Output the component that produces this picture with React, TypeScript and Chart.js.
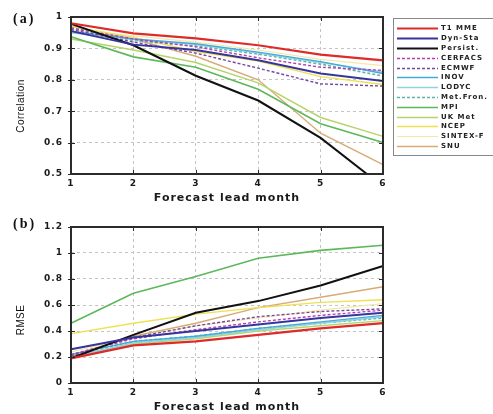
import { useEffect, useRef } from "react";
import { Chart, registerables } from "chart.js";

Chart.register(...registerables);

// ---------- data ----------
const leadMonths = ["1", "2", "3", "4", "5", "6"];

const seriesNames = [
  "T1 MME", "Dyn-Sta", "Persist.", "CERFACS", "ECMWF", "INOV", "LODYC",
  "Met.Fron.", "MPI", "UK Met", "NCEP", "SINTEX-F", "SNU",
];
const seriesColors = [
  "#de2a2a", "#35359c", "#111111", "#b63cb8", "#7446a6", "#46a9dc", "#8fd3e2",
  "#5bb5a6", "#5cb85a", "#b6d46a", "#eee050", "#f1e9a8", "#d8aa76",
];
const seriesWidths = [2.2, 2, 2, 1.4, 1.4, 1.4, 1.4, 1.6, 1.6, 1.4, 1.4, 1.2, 1.4];
const seriesDashed = [false, false, false, true, true, false, false, true, false, false, false, false, false];

// Correlation (panel a)
const corrT1MME = [0.98, 0.948, 0.932, 0.91, 0.88, 0.862];
const corrDynSta = [0.955, 0.912, 0.895, 0.862, 0.82, 0.796];
const corrPersist = [0.978, 0.91, 0.813, 0.734, 0.615, 0.46];
const corrCERFACS = [0.965, 0.93, 0.905, 0.87, 0.84, 0.83];
const corrECMWF = [0.96, 0.92, 0.885, 0.837, 0.787, 0.78];
const corrINOV = [0.955, 0.93, 0.915, 0.888, 0.858, 0.82];
const corrLODYC = [0.95, 0.928, 0.912, 0.885, 0.855, 0.825];
const corrMetFron = [0.965, 0.925, 0.908, 0.882, 0.85, 0.812];
const corrMPI = [0.937, 0.873, 0.84, 0.77, 0.66, 0.6];
const corrUKMet = [0.93, 0.895, 0.855, 0.79, 0.68, 0.62];
const corrNCEP = [0.97, 0.935, 0.89, 0.86, 0.81, 0.785];
const corrSINTEXF = [0.96, 0.94, 0.92, 0.895, 0.865, 0.845];
const corrSNU = [0.97, 0.93, 0.875, 0.8, 0.63, 0.53];

// RMSE (panel b)
const rmseT1MME = [0.19, 0.29, 0.32, 0.37, 0.42, 0.46];
const rmseDynSta = [0.26, 0.35, 0.4, 0.45, 0.5, 0.54];
const rmsePersist = [0.19, 0.37, 0.54, 0.63, 0.75, 0.9];
const rmseCERFACS = [0.22, 0.34, 0.41, 0.47, 0.52, 0.56];
const rmseECMWF = [0.21, 0.35, 0.44, 0.51, 0.55, 0.57];
const rmseINOV = [0.22, 0.32, 0.36, 0.42, 0.47, 0.52];
const rmseLODYC = [0.2, 0.31, 0.35, 0.41, 0.46, 0.51];
const rmseMetFron = [0.21, 0.32, 0.36, 0.42, 0.46, 0.5];
const rmseMPI = [0.46, 0.69, 0.82, 0.96, 1.02, 1.06];
const rmseUKMet = [0.2, 0.3, 0.34, 0.4, 0.44, 0.48];
const rmseNCEP = [0.38, 0.46, 0.53, 0.58, 0.62, 0.64];
const rmseSINTEXF = [0.24, 0.35, 0.44, 0.5, 0.56, 0.61];
const rmseSNU = [0.21, 0.36, 0.46, 0.58, 0.66, 0.74];

const corrSeries = [
  corrT1MME, corrDynSta, corrPersist, corrCERFACS, corrECMWF, corrINOV, corrLODYC,
  corrMetFron, corrMPI, corrUKMet, corrNCEP, corrSINTEXF, corrSNU,
];
const rmseSeries = [
  rmseT1MME, rmseDynSta, rmsePersist, rmseCERFACS, rmseECMWF, rmseINOV, rmseLODYC,
  rmseMetFron, rmseMPI, rmseUKMet, rmseNCEP, rmseSINTEXF, rmseSNU,
];

const xTitle = "Forecast lead month";

// ---------- plugins ----------
const TICK_FONT = "DejaVu Sans";

const spacingPlugin = {
  id: "spacing",
  beforeLayout(chart: any) {
    chart.ctx.letterSpacing = "1px";
  },
  beforeDraw(chart: any) {
    chart.ctx.letterSpacing = "1px";
  },
};

const framePlugin = {
  id: "frame",
  afterDraw(chart: any, _args: any, opts: any) {
    const { ctx, chartArea } = chart;
    const a = chartArea;
    ctx.save();
    ctx.strokeStyle = "#2b2b2b";
    ctx.lineWidth = 2;
    ctx.setLineDash([]);
    ctx.strokeRect(a.left, a.top, a.right - a.left, a.bottom - a.top);
    // small inward tick marks along frame
    ctx.lineWidth = 1;
    const xs = chart.scales.x;
    const ys = chart.scales.y;
    xs.ticks.forEach((_t: any, i: number) => {
      const px = Math.round(xs.getPixelForTick(i)) + 0.5;
      ctx.beginPath();
      ctx.moveTo(px, a.bottom);
      ctx.lineTo(px, a.bottom - 4);
      ctx.moveTo(px, a.top);
      ctx.lineTo(px, a.top + 4);
      ctx.stroke();
    });
    ys.ticks.forEach((_t: any, i: number) => {
      const py = Math.round(ys.getPixelForTick(i)) + 0.5;
      ctx.beginPath();
      ctx.moveTo(a.left - 3, py);
      ctx.lineTo(a.left + 4, py);
      ctx.moveTo(a.right, py);
      ctx.lineTo(a.right - 4, py);
      ctx.stroke();
    });
    // panel label and y title
    ctx.fillStyle = "#111";
    ctx.letterSpacing = "2px";
    ctx.font = "bold 14px 'Liberation Serif'";
    ctx.textAlign = "left";
    ctx.textBaseline = "middle";
    ctx.fillText(opts.panel, 13, opts.panelY);
    ctx.letterSpacing = "0.4px";
    ctx.font = "10px 'Liberation Sans'";
    ctx.translate(opts.yTitleX, opts.yTitleY);
    ctx.rotate(-Math.PI / 2);
    ctx.textAlign = "center";
    ctx.fillText(opts.yTitle, 0, 0);
    ctx.restore();
  },
};

const legendBoxPlugin = {
  id: "legendBox",
  afterDraw(chart: any, _args: any, opts: any) {
    if (!opts.show) return;
    const { ctx } = chart;
    ctx.save();
    ctx.strokeStyle = "#888";
    ctx.lineWidth = 1;
    ctx.setLineDash([]);
    ctx.strokeRect(393.5, 18.5, 130, 137);
    chart.data.datasets.forEach((ds: any, i: number) => {
      const y = Math.round(28.3 + i * 9.8) + 0.5;
      ctx.strokeStyle = ds.borderColor;
      ctx.lineWidth = ds.borderWidth;
      ctx.setLineDash(ds.borderDash || []);
      ctx.beginPath();
      ctx.moveTo(397, y);
      ctx.lineTo(438, y);
      ctx.stroke();
      ctx.setLineDash([]);
      ctx.fillStyle = "#222";
      ctx.letterSpacing = "1px";
      ctx.font = "bold 7px 'DejaVu Sans'";
      ctx.textAlign = "left";
      ctx.textBaseline = "middle";
      ctx.fillText(ds.label, 441, y);
    });
    ctx.restore();
  },
};

function makeConfig(kind: "corr" | "rmse", canvasH: number): any {
  const isCorr = kind === "corr";
  const series = isCorr ? corrSeries : rmseSeries;
  const plotTop = isCorr ? 17 : 22;
  const plotBottom = isCorr ? 174 : 178;
  return {
    type: "line",
    data: {
      labels: leadMonths,
      datasets: series.map((vals, i) => ({
        label: seriesNames[i],
        data: vals,
        borderColor: seriesColors[i],
        backgroundColor: seriesColors[i],
        borderWidth: seriesWidths[i],
        borderDash: seriesDashed[i] ? [3, 2] : [],
        pointRadius: 0,
        tension: 0,
        fill: false,
      })),
    },
    options: {
      animation: false,
      responsive: false,
      events: [],
      layout: { padding: { left: 0, right: 110, top: plotTop, bottom: 0 } },
      plugins: {
        legend: { display: false },
        tooltip: { enabled: false },
        frame: {
          panel: isCorr ? "(a)" : "(b)",
          panelY: 19,
          yTitle: isCorr ? "Correlation" : "RMSE",
          yTitleX: 21,
          yTitleY: isCorr ? 106 : 115,
        },
        legendBox: { show: isCorr },
      },
      scales: {
        x: {
          type: "category",
          offset: false,
          afterFit: (s: any) => {
            s.height = canvasH - plotBottom;
          },
          grid: { color: "#c4c4c4", lineWidth: 1, drawTicks: false },
          border: { display: false, dash: [3, 3] },
          ticks: {
            color: "#1a1a1a",
            padding: 4,
            maxRotation: 0,
            font: { family: TICK_FONT, weight: "bold", size: 9 },
          },
          title: {
            display: true,
            text: xTitle,
            color: "#1a1a1a",
            padding: { top: 0, bottom: 0 },
            font: { family: TICK_FONT, weight: "bold", size: 11 },
          },
        },
        y: {
          min: isCorr ? 0.5 : 0,
          max: isCorr ? 1 : 1.2,
          afterFit: (s: any) => {
            s.width = 71;
          },
          afterBuildTicks: (s: any) => {
            const step = isCorr ? 0.1 : 0.2;
            const lo = isCorr ? 0.5 : 0;
            const n = isCorr ? 5 : 6;
            const t = [];
            for (let k = 0; k <= n; k++) t.push({ value: +(lo + k * step).toFixed(2) });
            s.ticks = t;
          },
          grid: { color: "#c4c4c4", lineWidth: 1, drawTicks: false },
          border: { display: false, dash: [3, 3] },
          ticks: {
            color: "#1a1a1a",
            padding: 8,
            font: { family: TICK_FONT, weight: "bold", size: 9 },
            callback: (v: number) => String(+Number(v).toFixed(1)),
          },
        },
      },
    },
    plugins: [spacingPlugin, framePlugin, legendBoxPlugin],
  };
}

function PanelChart({ kind, top, height }: { kind: "corr" | "rmse"; top: number; height: number }) {
  const ref = useRef<HTMLCanvasElement | null>(null);
  useEffect(() => {
    if (!ref.current) return;
    const chart = new Chart(ref.current, makeConfig(kind, height));
    return () => chart.destroy();
  }, [kind, height]);
  return (
    <canvas
      ref={ref}
      width={493}
      height={height}
      style={{ position: "absolute", left: 0, top, width: 493, height, display: "block" }}
    />
  );
}

export default function App() {
  return (
    <div
      style={{
        position: "absolute",
        left: 0,
        top: 0,
        width: 493,
        height: 414,
        background: "#ffffff",
        overflow: "hidden",
      }}
    >
      <PanelChart kind="corr" top={0} height={205} />
      <PanelChart kind="rmse" top={205} height={209} />
    </div>
  );
}
